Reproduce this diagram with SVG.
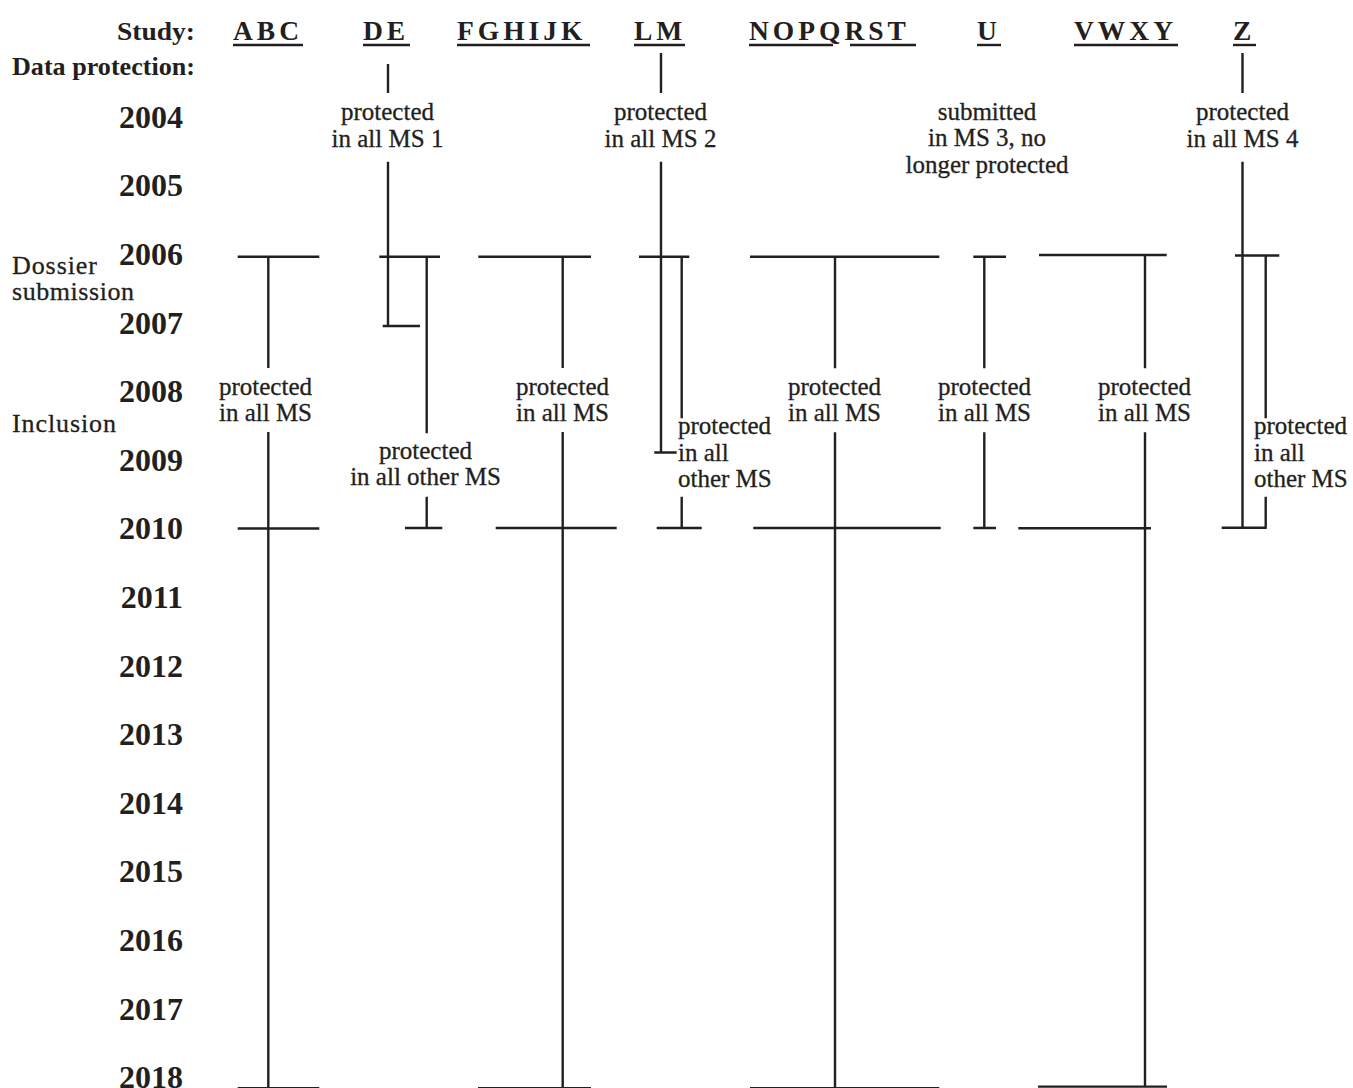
<svg xmlns="http://www.w3.org/2000/svg" width="1353" height="1088" viewBox="0 0 1353 1088">
<style>
text{font-family:"Liberation Serif","Times New Roman",serif;fill:#231f20}
.yr{font-size:32px;font-weight:bold;text-anchor:end}
.hd{font-size:25px;font-weight:bold}
.st{font-size:27.5px;font-weight:bold;letter-spacing:4px}
.lb{font-size:25px;text-anchor:middle;stroke:#231f20;stroke-width:0.3}
.ll{font-size:25px;stroke:#231f20;stroke-width:0.3}
.sd{font-size:26px;stroke:#231f20;stroke-width:0.3}
line,path{stroke:#231f20;stroke-width:2.4;fill:none}
.ul{stroke-width:2.4}
</style>
<rect width="1353" height="1088" fill="#fff"/>

<g id="axis">
<text class="hd" x="117" y="39.5" textLength="78" lengthAdjust="spacingAndGlyphs">Study:</text>
<text class="hd" x="12" y="75" textLength="183" lengthAdjust="spacingAndGlyphs">Data protection:</text>
<text class="sd" x="12" y="273.5" textLength="85">Dossier</text>
<text class="sd" x="12" y="300" textLength="122">submission</text>
<text class="sd" x="12" y="432" textLength="104">Inclusion</text>
<text class="yr" x="183" y="127.8">2004</text>
<text class="yr" x="183" y="196.4">2005</text>
<text class="yr" x="183" y="265">2006</text>
<text class="yr" x="183" y="333.6">2007</text>
<text class="yr" x="183" y="402.2">2008</text>
<text class="yr" x="183" y="470.8">2009</text>
<text class="yr" x="183" y="539.4">2010</text>
<text class="yr" x="183" y="608">2011</text>
<text class="yr" x="183" y="676.6">2012</text>
<text class="yr" x="183" y="745.2">2013</text>
<text class="yr" x="183" y="813.8">2014</text>
<text class="yr" x="183" y="882.4">2015</text>
<text class="yr" x="183" y="951">2016</text>
<text class="yr" x="183" y="1019.6">2017</text>
<text class="yr" x="183" y="1088.2">2018</text>
</g>

<g id="study-ABC">
<text class="st" x="233" y="39.5">ABC</text>
<line class="ul" x1="233" y1="45" x2="303" y2="45"/>
<text class="lb" x="265.5" y="395">protected</text>
<text class="lb" x="265.5" y="421">in all MS</text>
</g>

<g id="study-DE">
<text class="st" x="363" y="39.5">DE</text>
<line class="ul" x1="363" y1="45" x2="410" y2="45"/>
<text class="lb" x="387.5" y="120">protected</text>
<text class="lb" x="387.5" y="146.7">in all MS 1</text>
<text class="lb" x="425.5" y="459.3">protected</text>
<text class="lb" x="425.5" y="485">in all other MS</text>
</g>

<g id="study-FGHIJK">
<text class="st" x="457" y="39.5">FGHIJK</text>
<line class="ul" x1="457" y1="45" x2="590" y2="45"/>
<text class="lb" x="562.5" y="395">protected</text>
<text class="lb" x="562.5" y="421">in all MS</text>
</g>

<g id="study-LM">
<text class="st" x="634" y="39.5">LM</text>
<line class="ul" x1="634" y1="45" x2="685" y2="45"/>
<text class="lb" x="660.5" y="120">protected</text>
<text class="lb" x="660.5" y="146.7">in all MS 2</text>
<text class="ll" x="678" y="434">protected</text>
<text class="ll" x="678" y="460.7">in all</text>
<text class="ll" x="678" y="487.3">other MS</text>
</g>

<g id="study-NOPQRST">
<text class="st" x="749" y="39.5">NOPQRST</text>
<line class="ul" x1="749" y1="45" x2="833" y2="45"/>
<line class="ul" x1="850" y1="45" x2="916" y2="45"/>
<text class="lb" x="834.5" y="395">protected</text>
<text class="lb" x="834.5" y="421">in all MS</text>
</g>

<g id="study-U">
<text class="st" x="977" y="39.5">U</text>
<line class="ul" x1="977" y1="45" x2="1001" y2="45"/>
<text class="lb" x="987" y="119.5">submitted</text>
<text class="lb" x="987" y="146.3">in MS 3, no</text>
<text class="lb" x="987" y="173.3">longer protected</text>
<text class="lb" x="984.5" y="395">protected</text>
<text class="lb" x="984.5" y="421">in all MS</text>
</g>

<g id="study-VWXY">
<text class="st" x="1074" y="39.5">VWXY</text>
<line class="ul" x1="1074" y1="45" x2="1178" y2="45"/>
<text class="lb" x="1144.5" y="395">protected</text>
<text class="lb" x="1144.5" y="421">in all MS</text>
</g>

<g id="study-Z">
<text class="st" x="1233" y="39.5">Z</text>
<line class="ul" x1="1233" y1="45" x2="1256" y2="45"/>
<text class="lb" x="1242.5" y="120">protected</text>
<text class="lb" x="1242.5" y="146.7">in all MS 4</text>
<text class="ll" x="1254" y="434">protected</text>
<text class="ll" x="1254" y="460.7">in all</text>
<text class="ll" x="1254" y="487.3">other MS</text>
</g>

<g id="connectors">
<g id="lines-ABC">
<path d="M237.7 256.7H319.3M268.3 256.7V368M268.3 432V1090M237.7 528.5H319.3M237.7 1088.2H319.3"/>
</g>
<g id="lines-DE">
<path d="M388 64V93M388 161.7V326M382.7 326H420M379.3 256.7H440M426.7 257.8V433.3M426.7 496.7V528M405 528H442.3"/>
</g>
<g id="lines-FGHIJK">
<path d="M478.3 256.7H591M562.7 256.7V368M562.7 432V1090M495.7 528H616.7M478 1088.2H591"/>
</g>
<g id="lines-LM">
<path d="M661 53V93M661 161.7V452.5M654.3 452.5H676.7M639 256.7H689.3M681.7 258V418.3M681.7 496.7V528M656.7 528H701.7"/>
</g>
<g id="lines-NOPQRST">
<path d="M750 256.7H939.3M835 256.7V368.3M835 432.3V1090M753.3 528H940.7M750 1088.2H939.3"/>
</g>
<g id="lines-U">
<path d="M973.3 256.7H1006M984.3 256.7V368.3M984.3 432.3V528M973.3 528H996"/>
</g>
<g id="lines-VWXY">
<path d="M1039 255H1166.7M1145 255V368.3M1145 432.3V1087M1018.3 528.3H1151M1038 1086.6H1167"/>
</g>
<g id="lines-Z">
<path d="M1242.5 53V93M1242.5 161.7V527.7M1235 255.5H1279.3M1265.7 256.7V418.3M1265.7 496.7V527.7M1221.7 527.7H1266.7"/>
</g>
</g>
</svg>
